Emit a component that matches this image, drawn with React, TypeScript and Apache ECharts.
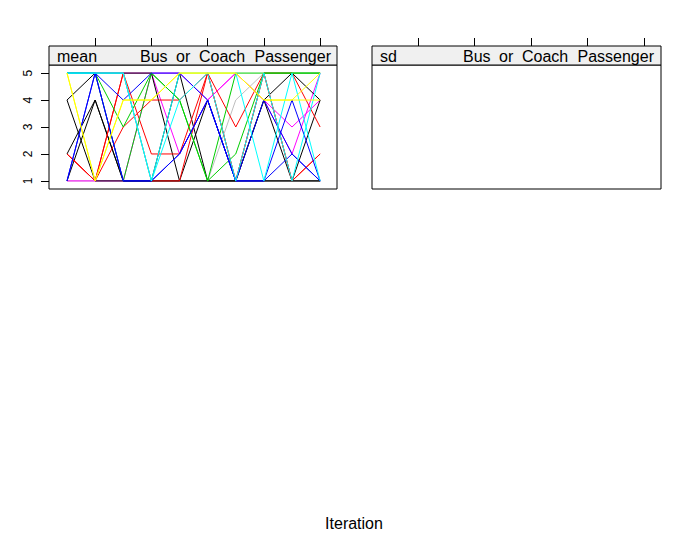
import React, { useEffect, useRef } from "react";
import * as echarts from "echarts";

// ---- data ----
const iterations = [1, 2, 3, 4, 5, 6, 7, 8, 9, 10];
const xTickValues = [2, 4, 6, 8, 10];
const yTickValues = [1, 2, 3, 4, 5];
const statNames = ["mean", "sd"];
const variableWords = ["Bus", "or", "Coach", "Passenger"];
const xTitle = "Iteration";

// chain colours (R palette) and the imputed mean per iteration, in drawing order
const chainColors = [
  "#BEBEBE",
  "#FF00FF", "#FF00FF",
  "#000000", "#000000", "#000000", "#000000",
  "#FF0000", "#FF0000", "#FF0000",
  "#00CD00", "#00CD00",
  "#0000FF", "#0000FF", "#0000FF",
  "#00FFFF", "#00FFFF",
  "#FFFF00", "#FFFF00",
];
const chainMeans = [
  [1, 1, 1, 1, 1, 1, 4, 5, 5, 5],
  [1, 1, 1, 5, 5, 4, 5, 4, 3, 4],
  [5, 5, 5, 5, 2, 4, 5, 4, 2, 5],
  [4, 5, 5, 5, 1, 4, 1, 4, 5, 4],
  [4, 1, 1, 1, 5, 1, 1, 4, 1, 4],
  [2, 4, 1, 1, 1, 1, 1, 1, 1, 1],
  [1, 4, 1, 1, 1, 1, 1, 1, 1, 1],
  [2, 1, 5, 2, 2, 5, 1, 5, 1, 2],
  [2, 1, 3, 4, 4, 5, 3, 5, 1, 2],
  [2, 1, 5, 1, 1, 5, 1, 5, 5, 3],
  [5, 5, 3, 5, 4, 1, 5, 5, 5, 5],
  [5, 5, 1, 5, 4, 1, 2, 5, 5, 5],
  [1, 5, 4, 5, 5, 4, 1, 1, 2, 1],
  [1, 5, 1, 1, 2, 4, 1, 4, 2, 1],
  [5, 5, 1, 1, 2, 4, 1, 1, 4, 1],
  [5, 5, 5, 1, 4, 5, 1, 5, 1, 5],
  [5, 5, 5, 1, 5, 5, 5, 1, 5, 1],
  [5, 1, 4, 4, 5, 5, 5, 4, 4, 4],
  [5, 1, 4, 4, 5, 5, 5, 4, 4, 5],
];

const FONT = "'Liberation Sans', Arial, sans-serif";

export default function App() {
  const ref = useRef<HTMLDivElement>(null);

  useEffect(() => {
    if (!ref.current) return;
    const chart = echarts.init(ref.current, undefined, { renderer: "svg" });

    const panels = [
      { left: 49, width: 288 },
      { left: 372, width: 289 },
    ];
    const top = 65;
    const height = 124;
    const stripTop = 46;
    const stripH = 19;
    const wordOffsets = [91, 127, 150, 205.5];

    const xAxisBase = (gi: number) => ({
      type: "value",
      gridIndex: gi,
      position: "top",
      min: 0.36,
      max: 10.6,
      offset: 19,
      axisLine: { show: false },
      axisTick: {
        show: true,
        length: 8,
        customValues: xTickValues,
        lineStyle: { color: "#000", width: 1 },
      },
      axisLabel: { show: false },
      splitLine: { show: false },
    });

    const graphics: any[] = [];
    panels.forEach((p, i) => {
      graphics.push({
        type: "rect",
        shape: { x: p.left, y: stripTop, width: p.width, height: stripH },
        style: { fill: "#F0F0F0", stroke: "#000", lineWidth: 1 },
        z: 10,
      });
      graphics.push({
        type: "text",
        x: p.left + 8,
        y: stripTop + stripH / 2 + 1,
        style: {
          text: statNames[i],
          font: `16px ${FONT}`,
          fill: "#000",
          textVerticalAlign: "middle",
        },
        z: 11,
      });
      variableWords.forEach((w, k) => {
        graphics.push({
          type: "text",
          x: p.left + wordOffsets[k],
          y: stripTop + stripH / 2 + 1,
          style: {
            text: w,
            font: `16px ${FONT}`,
            fill: "#000",
            textVerticalAlign: "middle",
          },
          z: 11,
        });
      });
    });
    graphics.push({
      type: "text",
      x: 354,
      y: 523,
      style: {
        text: xTitle,
        font: `16px ${FONT}`,
        fill: "#000",
        textAlign: "center",
        textVerticalAlign: "middle",
      },
    });

    const series: any[] = chainMeans.map((vals, ci) => ({
      type: "line",
      xAxisIndex: 0,
      yAxisIndex: 0,
      data: iterations.map((it, k) => [it, vals[k]]),
      showSymbol: false,
      symbol: "none",
      silent: true,
      lineStyle: { color: chainColors[ci], width: 1 },
      itemStyle: { color: chainColors[ci] },
    }));
    series.push({
      type: "line",
      xAxisIndex: 1,
      yAxisIndex: 1,
      data: [],
      showSymbol: false,
      silent: true,
    });

    chart.setOption({
      animation: false,
      backgroundColor: "#fff",
      grid: panels.map((p) => ({
        left: p.left,
        top,
        width: p.width,
        height,
        show: true,
        borderColor: "#000",
        borderWidth: 1,
        backgroundColor: "transparent",
      })),
      xAxis: [xAxisBase(0), xAxisBase(1)],
      yAxis: [
        {
          type: "value",
          gridIndex: 0,
          min: 0.7,
          max: 5.3,
          axisLine: { show: false },
          axisTick: {
            show: true,
            length: 8,
            customValues: yTickValues,
            lineStyle: { color: "#000", width: 1 },
          },
          axisLabel: {
            customValues: yTickValues,
            rotate: 90,
            fontSize: 12,
            fontFamily: FONT,
            color: "#000",
            margin: 15,
          },
          splitLine: { show: false },
        },
        {
          type: "value",
          gridIndex: 1,
          min: 0.7,
          max: 5.3,
          axisLine: { show: false },
          axisTick: { show: false },
          axisLabel: { show: false },
          splitLine: { show: false },
        },
      ],
      graphic: graphics,
      series,
    });

    return () => chart.dispose();
  }, []);

  return (
    <div
      ref={ref}
      style={{ position: "absolute", left: 0, top: 0, width: 677, height: 545 }}
    />
  );
}
